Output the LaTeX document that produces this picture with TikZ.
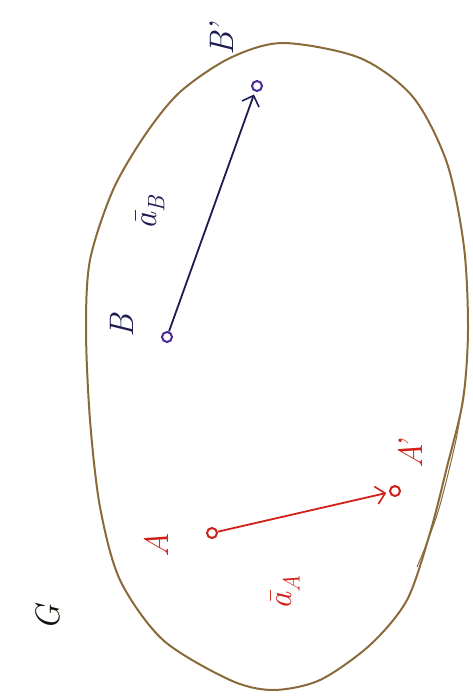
\documentclass[tikz,border=0pt]{standalone}
\usetikzlibrary{arrows.meta}
\definecolor{outl}{HTML}{8A6A3A}
\definecolor{navy}{HTML}{1C1C50}
\definecolor{purp}{HTML}{4A2A9A}
\definecolor{redd}{HTML}{D02018}
\begin{document}
\begin{tikzpicture}[x=1pt,y=-1pt,
  pt/.style={circle,draw,line width=2pt,minimum size=10pt,inner sep=0pt},
  lbl/.style={rotate=90,font=\fontsize{34}{36}\selectfont\itshape,inner sep=0pt},
  vec/.style={line width=1.8pt,-{Straight Barb[length=9pt,width=18pt,line width=1.6pt]},shorten >=3pt}]
\useasboundingbox (0,0) rectangle (472,697);
% body outline
\draw[outl,line width=2pt] plot[smooth cycle,tension=0.5] coordinates {
 (283,43) (360,58) (413,97) (447,163) (464,247) (468,330) (463,400)
 (447,467) (430,533) (407,600) (370,645) (320,680) (273,690) (230,680)
 (163,640) (120,580) (100,507) (90,420) (86,330) (90,260) (113,190)
 (145,135) (180,92) (230,58)};
\draw[outl,line width=1pt] plot[smooth,tension=0.5] coordinates {(464,390) (456,440) (440,505) (428,540) (417,567)};
% points
\node[pt,draw=purp] (B) at (167,337) {};
\node[pt,draw=purp] (Bp) at (257,86) {};
\node[pt,draw=redd] (A) at (212,533) {};
\node[pt,draw=redd] (Ap) at (395,491) {};
% vectors
\draw[vec,navy] (B) -- (Bp);
\draw[vec,redd] (A) -- (Ap);
% labels
\node[lbl,navy] (lB) at (122,326) {B};
\node[lbl,navy] (lBp) at (222,40) {B\kern-2pt\textquoteright};
\node[lbl,navy] (laB) at (150,213) {\={a}\textsubscript{B}};
\node[lbl,redd] (lA) at (156,545) {A};
\node[lbl,redd] (lAp) at (410,455) {A\kern-7pt\textquoteright};
\node[lbl,redd] (laA) at (285,592) {\={a}\textsubscript{A}};
\node[lbl,black!85!outl] (lG) at (48,618) {G};
\end{tikzpicture}
\end{document}
